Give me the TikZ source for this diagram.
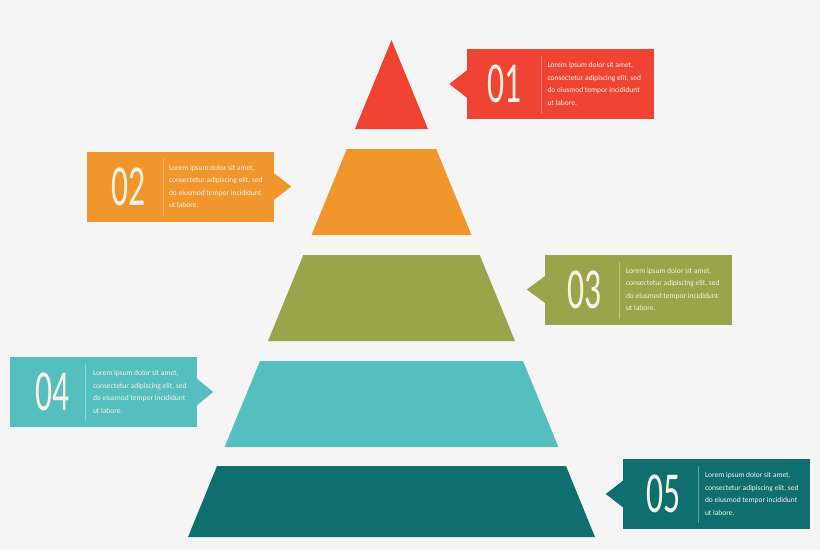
\documentclass[tikz,border=0pt]{standalone}
\usepackage{fontspec}
\setmainfont{Carlito}
\usetikzlibrary{calc}
\definecolor{bgcol}{HTML}{F5F5F5}
\definecolor{redc}{HTML}{EF4433}
\definecolor{orangec}{HTML}{F0962C}
\definecolor{olivec}{HTML}{9AA44A}
\definecolor{aquac}{HTML}{55BEBE}
\definecolor{tealc}{HTML}{0F6F6E}
\definecolor{txtcol}{HTML}{F8F2E4}
\tikzset{
  card/.style={rectangle, fill=#1, minimum width=187pt, minimum height=70pt, inner sep=0pt},
  num/.style={text=txtcol, font=\fontsize{58}{58}\selectfont, xscale=0.58, inner sep=0pt},
  blurb/.style={text=txtcol, font=\fontsize{7.5}{12.6}\selectfont, align=left, anchor=west, inner sep=0pt},
  divider/.style={draw=white, opacity=.35, line width=.6pt},
}
\newcommand{\lorem}{Lorem ipsum dolor sit amet,\\consectetur adipiscing elit, sed\\do eiusmod tempor incididunt\\ut labore.}
\begin{document}
\begin{tikzpicture}[x=1pt, y=-1pt]
\fill[bgcol] (0,0) rectangle (820,550);
\useasboundingbox (0,0) rectangle (820,550);

\fill[redc] (391.5,40) -- (428,129) -- (355,129) -- cycle;
\fill[orangec] (346.8,149) -- (436.2,149) -- (471.5,235) -- (311.5,235) -- cycle;
\fill[olivec] (303.3,255) -- (479.7,255) -- (515,341) -- (268,341) -- cycle;
\fill[aquac] (260,361) -- (523,361) -- (558.4,447) -- (224.6,447) -- cycle;
\fill[tealc] (217,466) -- (566,466) -- (595,537) -- (188,537) -- cycle;

\node[card=redc] (c1) at (560,84){};
\fill[redc] ($(c1.west)+(1,-14)$) -- ++(-18,14) -- ($(c1.west)+(1,14)$) -- cycle;
\node[num] (n1) at ($(c1.west)+(38,0)$){01};
\draw[divider] ($(c1.west)+(75,-28)$) -- ($(c1.west)+(75,29)$);
\node[blurb] (t1) at ($(c1.west)+(81,0)$){\lorem};

\node[card=orangec] (c2) at (180.5,186.5){};
\fill[orangec] ($(c2.east)+(-1,-14)$) -- ++(18,14) -- ($(c2.east)+(-1,14)$) -- cycle;
\node[num] (n2) at ($(c2.west)+(42,0)$){02};
\draw[divider] ($(c2.west)+(76,-28)$) -- ($(c2.west)+(76,29)$);
\node[blurb] (t2) at ($(c2.west)+(82,0)$){\lorem};

\node[card=olivec] (c3) at (638.5,289.5){};
\fill[olivec] ($(c3.west)+(1,-14)$) -- ++(-19,14) -- ($(c3.west)+(1,14)$) -- cycle;
\node[num] (n3) at ($(c3.west)+(40,0)$){03};
\draw[divider] ($(c3.west)+(74,-28)$) -- ($(c3.west)+(74,29)$);
\node[blurb] (t3) at ($(c3.west)+(81,0)$){\lorem};

\node[card=aquac] (c4) at (103.5,392){};
\fill[aquac] ($(c4.east)+(-1,-14)$) -- ++(17,14) -- ($(c4.east)+(-1,14)$) -- cycle;
\node[num] (n4) at ($(c4.west)+(43,0)$){04};
\draw[divider] ($(c4.west)+(75,-28)$) -- ($(c4.west)+(75,29)$);
\node[blurb] (t4) at ($(c4.west)+(83,0)$){\lorem};

\node[card=tealc] (c5) at (716.5,494){};
\fill[tealc] ($(c5.west)+(1,-14)$) -- ++(-18,14) -- ($(c5.west)+(1,14)$) -- cycle;
\node[num] (n5) at ($(c5.west)+(41,0)$){05};
\draw[divider] ($(c5.west)+(75,-28)$) -- ($(c5.west)+(75,29)$);
\node[blurb] (t5) at ($(c5.west)+(82,0)$){\lorem};
\end{tikzpicture}
\end{document}
